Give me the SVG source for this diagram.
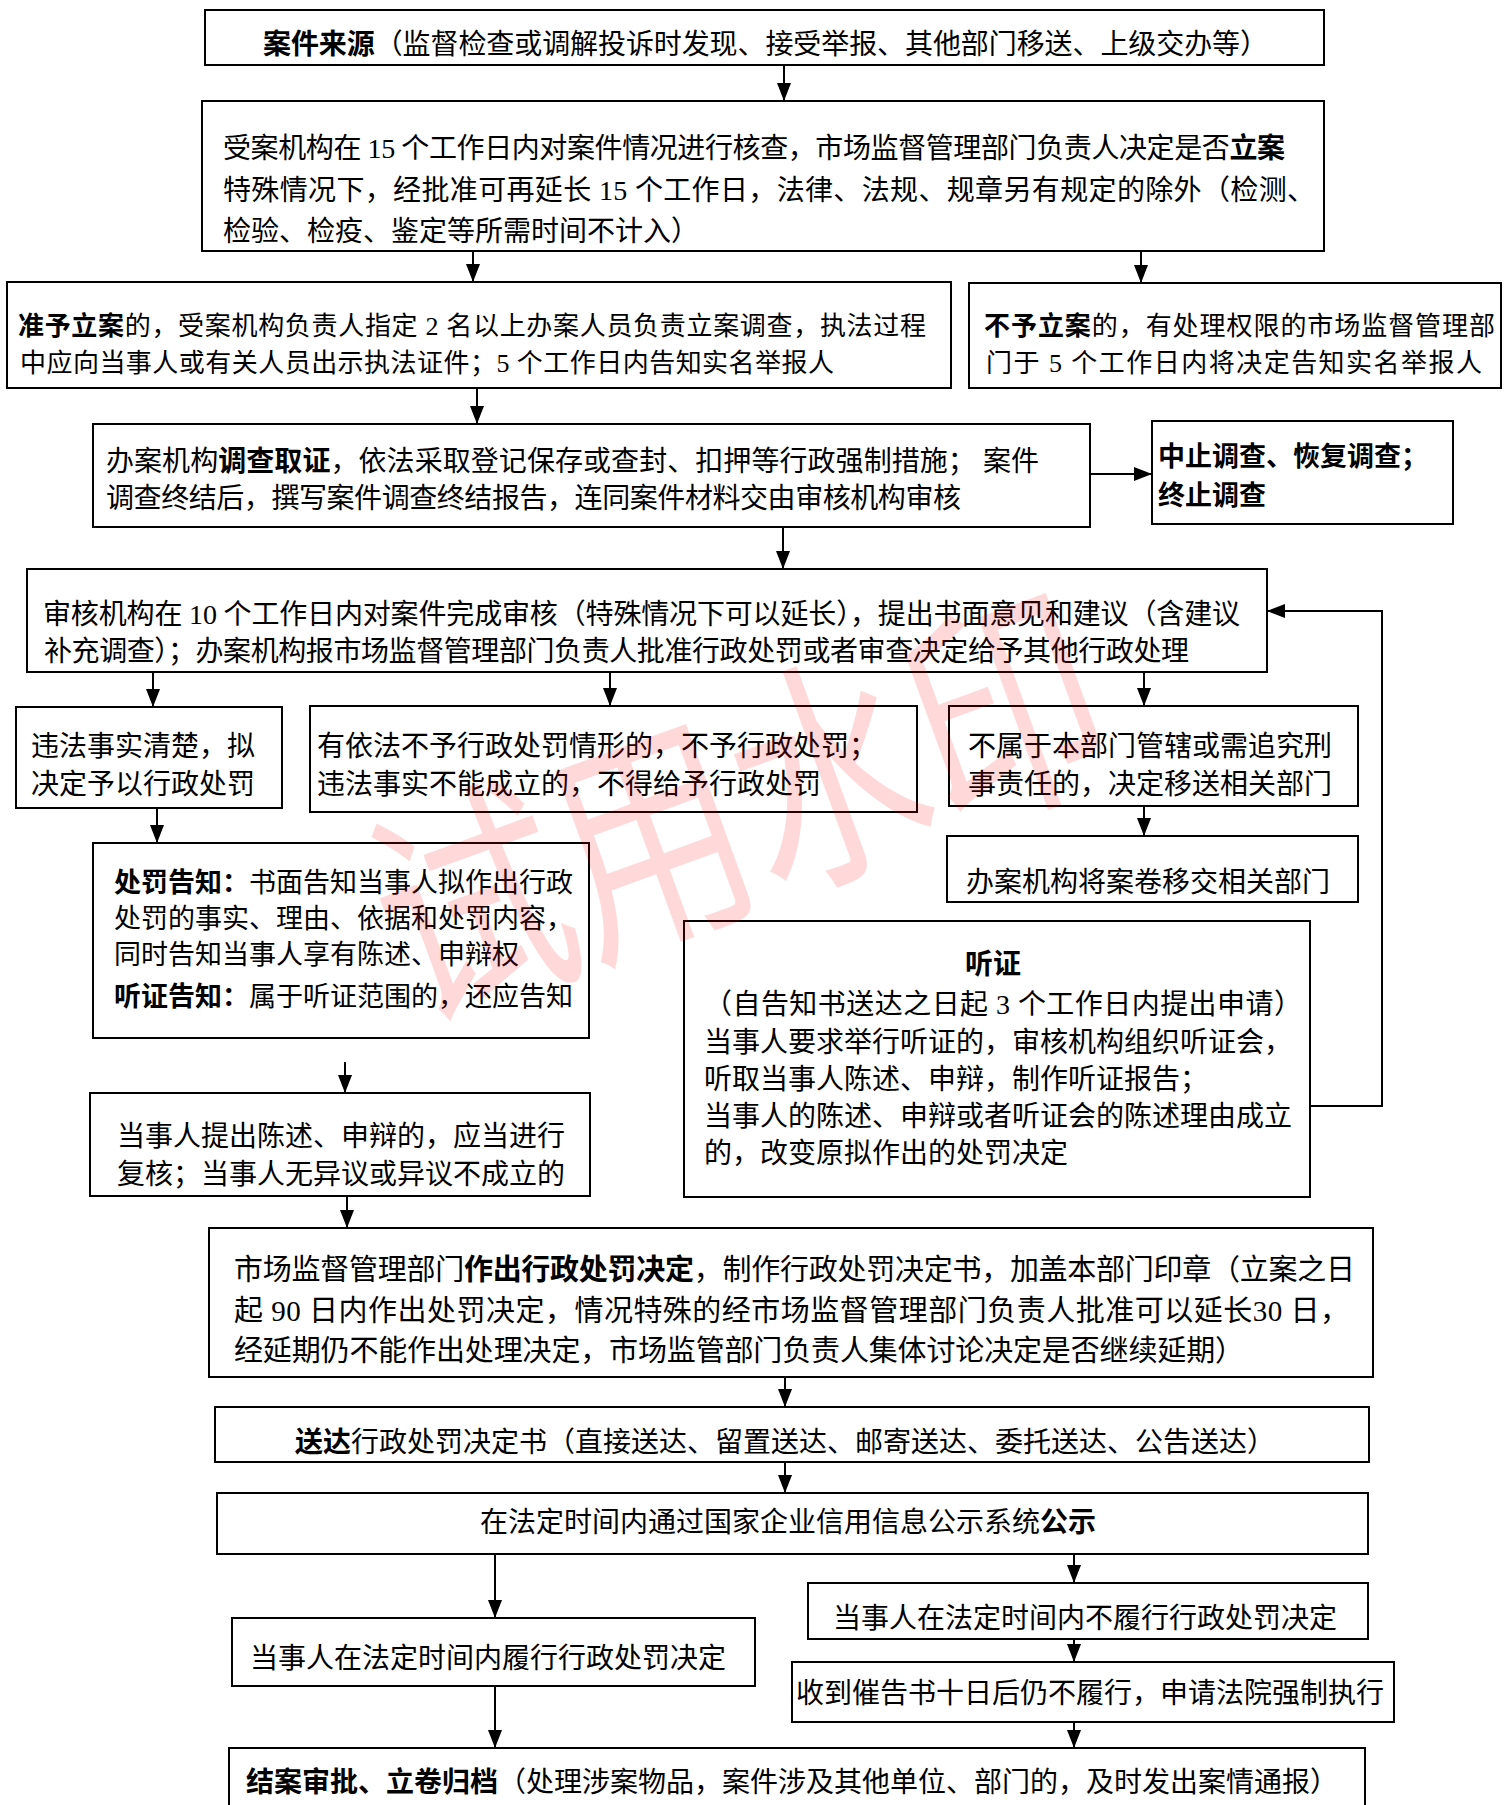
<svg xmlns="http://www.w3.org/2000/svg" width="1512" height="1805" viewBox="0 0 1512 1805">
<defs>
<style>
.box{fill:#fff;stroke:#000;stroke-width:2}
.t{font-family:"Liberation Serif","Noto Sans CJK SC",sans-serif;font-size:28px;fill:#000}
.s26{font-size:26px}
.s27{font-size:27px}
.s29{font-size:29px}
.b{font-weight:bold;font-family:"Noto Sans CJK SC",sans-serif}
.c{stroke:#000;stroke-width:2;fill:none;marker-end:url(#arr)}
.wm{font-family:"Noto Sans CJK SC",sans-serif;font-size:210px;fill:#ff0000;fill-opacity:0.15}
</style>
<marker id="arr" viewBox="0 0 18 14" refX="18" refY="7" markerWidth="18" markerHeight="14" markerUnits="userSpaceOnUse" orient="auto">
<path d="M0,0 L18,7 L0,14 z" fill="#000"/>
</marker>
</defs>
<rect x="0" y="0" width="1512" height="1805" fill="#fff"/>

<g id="n1"><rect class="box" x="205" y="10" width="1119" height="55"/>
<text class="t" x="263" y="54" textLength="1005" lengthAdjust="spacing"><tspan class="b">案件来源</tspan>（监督检查或调解投诉时发现、接受举报、其他部门移送、上级交办等）</text></g>

<g id="n2"><rect class="box" x="202" y="101" width="1122" height="150"/>
<text class="t" x="223" y="158" textLength="1062" lengthAdjust="spacing">受案机构在 15 个工作日内对案件情况进行核查，市场监督管理部门负责人决定是否<tspan class="b">立案</tspan></text>
<text class="t" x="223" y="200" textLength="1092" lengthAdjust="spacing">特殊情况下，经批准可再延长 15 个工作日，法律、法规、规章另有规定的除外（检测、</text>
<text class="t" x="223" y="241">检验、检疫、鉴定等所需时间不计入）</text></g>

<g id="n3"><rect class="box" x="7" y="282" width="944" height="106"/>
<text class="t s26" x="18" y="335" textLength="908" lengthAdjust="spacing"><tspan class="b">准予立案</tspan>的，受案机构负责人指定 2 名以上办案人员负责立案调查，执法过程</text>
<text class="t s26" x="20" y="372" textLength="814" lengthAdjust="spacing">中应向当事人或有关人员出示执法证件；5 个工作日内告知实名举报人</text></g>

<g id="n4"><rect class="box" x="969" y="283" width="532" height="105"/>
<text class="t s26" x="984" y="335" textLength="511" lengthAdjust="spacing"><tspan class="b">不予立案</tspan>的，有处理权限的市场监督管理部</text>
<text class="t s26" x="986" y="372" textLength="496" lengthAdjust="spacing">门于 5 个工作日内将决定告知实名举报人</text></g>

<g id="n5"><rect class="box" x="93" y="424" width="997" height="103"/>
<text class="t" x="106" y="471" textLength="933" lengthAdjust="spacing">办案机构<tspan class="b">调查取证</tspan>，依法采取登记保存或查封、扣押等行政强制措施；  案件</text>
<text class="t" x="106" y="508" textLength="855" lengthAdjust="spacing">调查终结后，撰写案件调查终结报告，连同案件材料交由审核机构审核</text></g>

<g id="n6"><rect class="box" x="1152" y="421" width="301" height="103"/>
<text class="t b s27" x="1158" y="466">中止调查、恢复调查；</text>
<text class="t b s27" x="1158" y="505">终止调查</text></g>

<g id="n7"><rect class="box" x="27" y="569" width="1240" height="103"/>
<text class="t" x="43" y="624" textLength="1197" lengthAdjust="spacing">审核机构在 10 个工作日内对案件完成审核（特殊情况下可以延长），提出书面意见和建议（含建议</text>
<text class="t" x="44" y="661" textLength="1145" lengthAdjust="spacing">补充调查）；办案机构报市场监督管理部门负责人批准行政处罚或者审查决定给予其他行政处理</text></g>

<g id="n8"><rect class="box" x="16" y="707" width="266" height="101"/>
<text class="t" x="31" y="756">违法事实清楚，拟</text>
<text class="t" x="31" y="794">决定予以行政处罚</text></g>

<g id="n9"><rect class="box" x="310" y="706" width="607" height="106"/>
<text class="t" x="317" y="756">有依法不予行政处罚情形的，不予行政处罚；</text>
<text class="t" x="317" y="794">违法事实不能成立的，不得给予行政处罚</text></g>

<g id="n10"><rect class="box" x="949" y="706" width="409" height="100"/>
<text class="t" x="968" y="756">不属于本部门管辖或需追究刑</text>
<text class="t" x="968" y="794">事责任的，决定移送相关部门</text></g>

<g id="n11"><rect class="box" x="947" y="836" width="411" height="66"/>
<text class="t" x="966" y="892">办案机构将案卷移交相关部门</text></g>

<g id="n12"><rect class="box" x="93" y="843" width="496" height="195"/>
<text class="t s27" x="114" y="892"><tspan class="b">处罚告知：</tspan>书面告知当事人拟作出行政</text>
<text class="t s27" x="114" y="928">处罚的事实、理由、依据和处罚内容，</text>
<text class="t s27" x="114" y="964">同时告知当事人享有陈述、申辩权</text>
<text class="t s27" x="114" y="1006"><tspan class="b">听证告知：</tspan>属于听证范围的，还应告知</text></g>

<g id="n13"><rect class="box" x="90" y="1093" width="500" height="103"/>
<text class="t" x="117" y="1146">当事人提出陈述、申辩的，应当进行</text>
<text class="t" x="117" y="1184">复核；当事人无异议或异议不成立的</text></g>

<g id="n14"><rect class="box" x="684" y="921" width="626" height="276"/>
<text class="t b" x="993" y="974" text-anchor="middle">听证</text>
<text class="t" x="704" y="1014" textLength="598" lengthAdjust="spacing">（自告知书送达之日起 3 个工作日内提出申请）</text>
<text class="t" x="704" y="1052">当事人要求举行听证的，审核机构组织听证会，</text>
<text class="t" x="704" y="1089">听取当事人陈述、申辩，制作听证报告；</text>
<text class="t" x="704" y="1126">当事人的陈述、申辩或者听证会的陈述理由成立</text>
<text class="t" x="704" y="1163">的，改变原拟作出的处罚决定</text></g>

<g id="n15"><rect class="box" x="209" y="1228" width="1164" height="149"/>
<text class="t s29" x="234" y="1280" textLength="1121" lengthAdjust="spacing">市场监督管理部门<tspan class="b">作出行政处罚决定</tspan>，制作行政处罚决定书，加盖本部门印章（立案之日</text>
<text class="t s29" x="234" y="1321" textLength="1115" lengthAdjust="spacing">起 90 日内作出处罚决定，情况特殊的经市场监督管理部门负责人批准可以延长30 日，</text>
<text class="t s29" x="234" y="1361" textLength="1010" lengthAdjust="spacing">经延期仍不能作出处理决定，市场监管部门负责人集体讨论决定是否继续延期）</text></g>

<g id="n16"><rect class="box" x="215" y="1407" width="1154" height="55"/>
<text class="t" x="295" y="1452"><tspan class="b">送达</tspan>行政处罚决定书（直接送达、留置送达、邮寄送达、委托送达、公告送达）</text></g>

<g id="n17"><rect class="box" x="217" y="1493" width="1151" height="61"/>
<text class="t" x="480" y="1532">在法定时间内通过国家企业信用信息公示系统<tspan class="b">公示</tspan></text></g>

<g id="n18"><rect class="box" x="232" y="1618" width="523" height="68"/>
<text class="t" x="250" y="1668">当事人在法定时间内履行行政处罚决定</text></g>

<g id="n19"><rect class="box" x="808" y="1583" width="560" height="56"/>
<text class="t" x="833" y="1628">当事人在法定时间内不履行行政处罚决定</text></g>

<g id="n20"><rect class="box" x="792" y="1662" width="602" height="60"/>
<text class="t" x="796" y="1703">收到催告书十日后仍不履行，申请法院强制执行</text></g>

<g id="n21"><rect class="box" x="229" y="1748" width="1136" height="80"/>
<text class="t" x="246" y="1792"><tspan class="b">结案审批、立卷归档</tspan>（处理涉案物品，案件涉及其他单位、部门的，及时发出案情通报）</text></g>

<g id="connectors">
<line class="c" x1="784" y1="65" x2="784" y2="101"/>
<line class="c" x1="473" y1="251" x2="473" y2="282"/>
<line class="c" x1="1141" y1="251" x2="1141" y2="283"/>
<line class="c" x1="477" y1="388" x2="477" y2="424"/>
<line class="c" x1="1090" y1="474" x2="1152" y2="474"/>
<line class="c" x1="783" y1="527" x2="783" y2="569"/>
<line class="c" x1="153" y1="672" x2="153" y2="707"/>
<line class="c" x1="610" y1="672" x2="610" y2="706"/>
<line class="c" x1="1144" y1="672" x2="1144" y2="706"/>
<line class="c" x1="1144" y1="806" x2="1144" y2="836"/>
<line class="c" x1="157" y1="808" x2="157" y2="843"/>
<line class="c" x1="345" y1="1062" x2="345" y2="1093"/>
<line class="c" x1="347" y1="1196" x2="347" y2="1228"/>
<polyline class="c" points="1310,1106 1382,1106 1382,611 1267,611"/>
<line class="c" x1="785" y1="1377" x2="785" y2="1407"/>
<line class="c" x1="785" y1="1462" x2="785" y2="1493"/>
<line class="c" x1="495" y1="1554" x2="495" y2="1618"/>
<line class="c" x1="1074" y1="1554" x2="1074" y2="1583"/>
<line class="c" x1="1074" y1="1639" x2="1074" y2="1662"/>
<line class="c" x1="1074" y1="1722" x2="1074" y2="1748"/>
<line class="c" x1="495" y1="1686" x2="495" y2="1748"/>
</g>

<g id="watermark"><text class="wm" transform="translate(738,805) rotate(-20) scale(0.9,1.15)" x="0" y="80" text-anchor="middle">试用水印</text></g>
</svg>
